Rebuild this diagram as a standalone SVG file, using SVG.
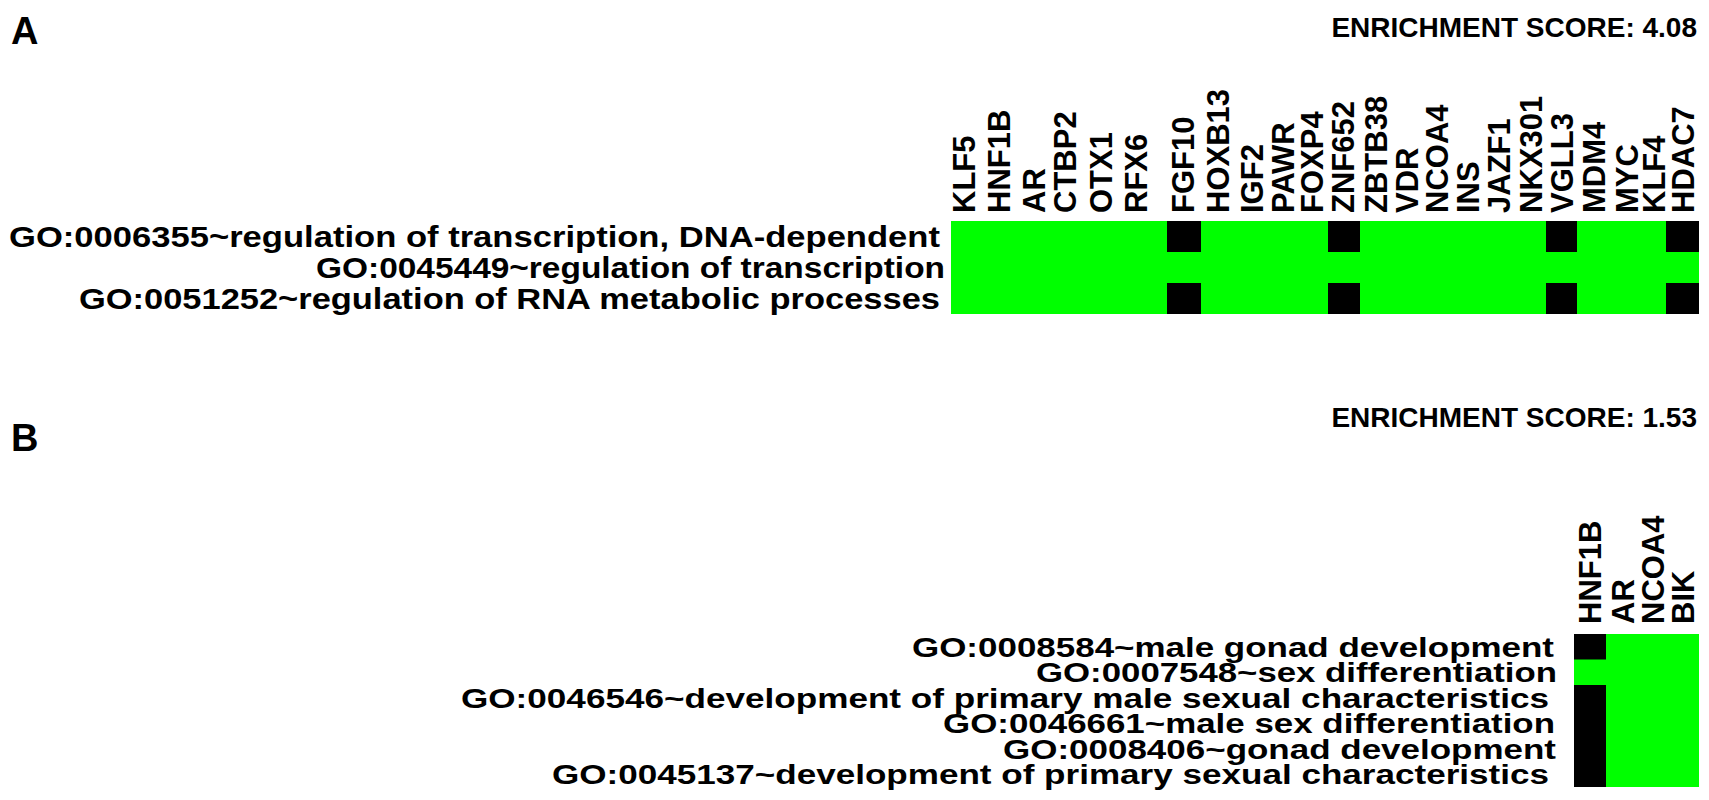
<svg xmlns="http://www.w3.org/2000/svg" width="1709" height="800" viewBox="0 0 1709 800">
<style>
text{font-family:"Liberation Sans",Arial,sans-serif;font-weight:bold;fill:#000}
.go{font-size:30px;text-anchor:end}
.gob{font-size:28px;text-anchor:end}
.gene{font-size:31px}
.es{font-size:28px;text-anchor:end}
.pl{font-size:38px}
.g{fill:#00ff00}
.k{fill:#000}
</style>
<rect width="1709" height="800" fill="#fff"/>
<g id="panelA">
<text class="pl" x="11" y="44">A</text>
<text class="es" x="1697" y="37">ENRICHMENT SCORE: 4.08</text>
<g id="genesA" class="gene">
<text transform="translate(975,213) rotate(-90)">KLF5</text>
<text transform="translate(1010,213) rotate(-90)">HNF1B</text>
<text transform="translate(1045,213) rotate(-90)">AR</text>
<text transform="translate(1076,213) rotate(-90)">CTBP2</text>
<text transform="translate(1112,213) rotate(-90)">OTX1</text>
<text transform="translate(1147,213) rotate(-90)">RFX6</text>
<text transform="translate(1194,213) rotate(-90)">FGF10</text>
<text transform="translate(1229,213) rotate(-90)">HOXB13</text>
<text transform="translate(1263,213) rotate(-90)">IGF2</text>
<text transform="translate(1294,213) rotate(-90)">PAWR</text>
<text transform="translate(1323,213) rotate(-90)">FOXP4</text>
<text transform="translate(1354,213) rotate(-90)">ZNF652</text>
<text transform="translate(1387,213) rotate(-90)">ZBTB38</text>
<text transform="translate(1418,213) rotate(-90)">VDR</text>
<text transform="translate(1448,213) rotate(-90)">NCOA4</text>
<text transform="translate(1479,213) rotate(-90)">INS</text>
<text transform="translate(1510,213) rotate(-90)">JAZF1</text>
<text transform="translate(1542,213) rotate(-90)">NKX301</text>
<text transform="translate(1573,213) rotate(-90)">VGLL3</text>
<text transform="translate(1605,213) rotate(-90)">MDM4</text>
<text transform="translate(1638,213) rotate(-90)">MYC</text>
<text transform="translate(1665,213) rotate(-90)">KLF4</text>
<text transform="translate(1694,213) rotate(-90)">HDAC7</text>
</g>
<text class="go" x="940" y="247" textLength="931" lengthAdjust="spacingAndGlyphs">GO:0006355~regulation of transcription, DNA-dependent</text>
<text class="go" x="945" y="278" textLength="629" lengthAdjust="spacingAndGlyphs">GO:0045449~regulation of transcription</text>
<text class="go" x="940" y="309" textLength="861" lengthAdjust="spacingAndGlyphs">GO:0051252~regulation of RNA metabolic processes</text>
<g id="gridA">
<rect class="g" x="951" y="221" width="748" height="93"/>
<rect class="k" x="1167" y="221" width="34" height="31"/>
<rect class="k" x="1167" y="283" width="34" height="31"/>
<rect class="k" x="1328" y="221" width="32" height="31"/>
<rect class="k" x="1328" y="283" width="32" height="31"/>
<rect class="k" x="1546" y="221" width="31" height="31"/>
<rect class="k" x="1546" y="283" width="31" height="31"/>
<rect class="k" x="1666" y="221" width="33" height="31"/>
<rect class="k" x="1666" y="283" width="33" height="31"/>
</g>
</g>
<g id="panelB">
<text class="pl" x="11" y="451">B</text>
<text class="es" x="1697" y="427">ENRICHMENT SCORE: 1.53</text>
<g id="genesB" class="gene">
<text transform="translate(1601,624) rotate(-90)">HNF1B</text>
<text transform="translate(1634,624) rotate(-90)">AR</text>
<text transform="translate(1664,624) rotate(-90)">NCOA4</text>
<text transform="translate(1694,624) rotate(-90)">BIK</text>
</g>
<text class="gob" x="1554" y="657" textLength="642" lengthAdjust="spacingAndGlyphs">GO:0008584~male gonad development</text>
<text class="gob" x="1557" y="682" textLength="521" lengthAdjust="spacingAndGlyphs">GO:0007548~sex differentiation</text>
<text class="gob" x="1549" y="708" textLength="1088" lengthAdjust="spacingAndGlyphs">GO:0046546~development of primary male sexual characteristics</text>
<text class="gob" x="1555" y="733" textLength="612" lengthAdjust="spacingAndGlyphs">GO:0046661~male sex differentiation</text>
<text class="gob" x="1556" y="759" textLength="553" lengthAdjust="spacingAndGlyphs">GO:0008406~gonad development</text>
<text class="gob" x="1549" y="784" textLength="997" lengthAdjust="spacingAndGlyphs">GO:0045137~development of primary sexual characteristics</text>
<g id="gridB">
<rect class="g" x="1574" y="634" width="125" height="153"/>
<rect class="k" x="1574" y="634" width="32" height="25.5"/>
<rect class="k" x="1574" y="685" width="32" height="102"/>
</g>
</g>
</svg>
